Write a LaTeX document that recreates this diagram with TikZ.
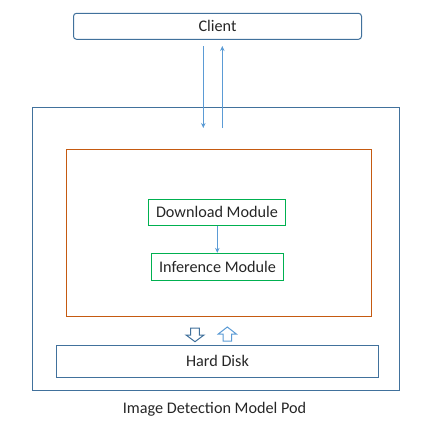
\documentclass[tikz,border=0pt]{standalone}
\usepackage{fontspec}
\setmainfont{Carlito}
\usetikzlibrary{arrows.meta}
\definecolor{boxblue}{HTML}{41719C}
\definecolor{linkblue}{HTML}{5B9BD5}
\definecolor{podorange}{HTML}{C55A11}
\definecolor{modgreen}{HTML}{00B050}
\begin{document}
\begin{tikzpicture}[x=1pt,y=-1pt,
  every node/.style={font=\fontsize{16.2}{18}\selectfont, text=black!85, inner sep=0pt},
  frame/.style={draw=boxblue, line width=1pt},
  module/.style={draw=modgreen, line width=1pt},
  link/.style={draw=linkblue, line width=0.9pt, -{Stealth[length=5pt,width=4.5pt]}},
  hollow/.style={draw=#1, line width=1pt, fill=white, line join=miter}]
\useasboundingbox (0,0) rectangle (436,437);
% client
\node[frame, rounded corners=3pt, minimum width=288pt, minimum height=26pt] (client) at (217.5,26.3) {Client};
% pod and container frames
\node[frame, minimum width=367pt, minimum height=283pt] (pod) at (216,248.7) {};
\node[draw=podorange, line width=1pt, minimum width=305pt, minimum height=166.7pt] (cont) at (218.7,233.3) {};
% modules
\node[module, minimum width=137.4pt, minimum height=25.7pt] (dl) at (217,212.2) {Download Module};
\node[module, minimum width=131.6pt, minimum height=26.7pt] (inf) at (217.5,266.7) {Inference Module};
\draw[link] (dl.south -| 217.3,0) -- (inf.north -| 217.3,0);
% request and response
\coordinate (reqS) at (203.3,46);
\coordinate (reqE) at (203.3,128);
\coordinate (resS) at (222.3,128);
\coordinate (resE) at (222.3,46);
\draw[link] (reqS) -- (reqE);
\draw[link] (resS) -- (resE);
% hard disk
\node[frame, minimum width=321.6pt, minimum height=32.3pt] (disk) at (217.5,361.2) {Hard Disk};
% block arrows between container and disk
\draw[hollow=boxblue] (190.7,328) -- (199.3,328) -- (199.3,335) -- (204,335) -- (195,341.7) -- (186,335) -- (190.7,335) -- cycle;
\draw[hollow=linkblue] (223,341) -- (231.6,341) -- (231.6,334) -- (236.3,334) -- (227.3,327) -- (218.3,334) -- (223,334) -- cycle;
% caption
\node (cap) at (214.5,409) {Image Detection Model Pod};
\end{tikzpicture}
\end{document}
